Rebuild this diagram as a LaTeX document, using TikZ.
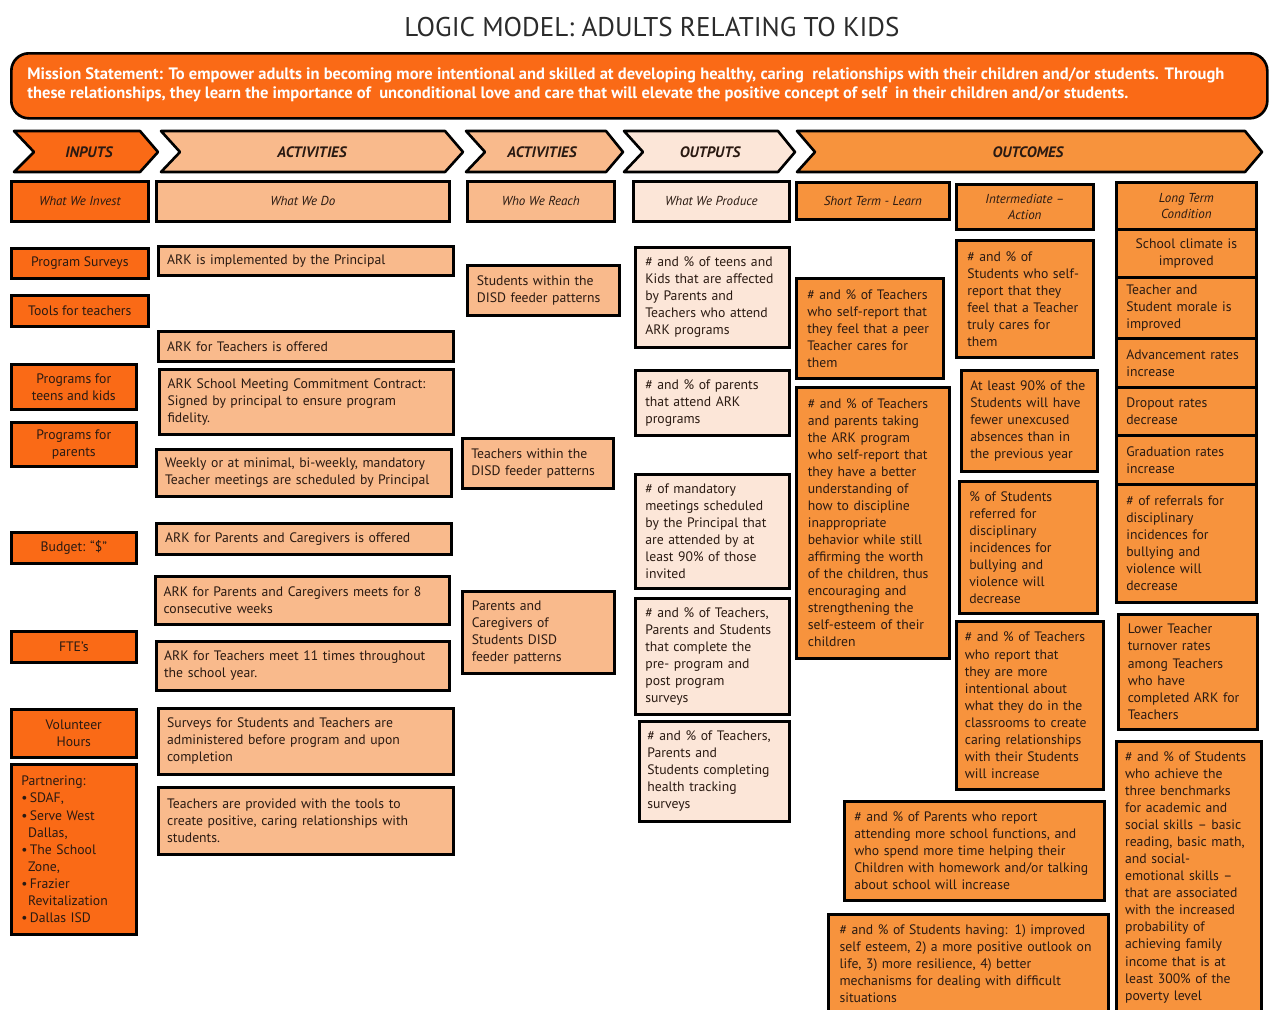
\documentclass[tikz,border=0pt]{standalone}
\usepackage{fontspec}
\setmainfont{PT Sans}
\definecolor{ink}      {HTML}{2A1A12}
\definecolor{titlegray}{HTML}{2B2B2B}
\definecolor{flame}    {HTML}{FA6A16}
\definecolor{peach}    {HTML}{F9BA8C}
\definecolor{blush}    {HTML}{FCE6D8}
\definecolor{tang}     {HTML}{F7933D}

\begin{document}
\begin{tikzpicture}[x=0.02cm, y=-0.02cm,
  every node/.style={font=\fontsize{7.8}{9.7}\selectfont, text=ink},
  % a box given by its corners, in pixel units
  cellat/.style n args={4}{anchor=north west, at={(#1,#2)},
    minimum width={(#3-#1)*0.02cm}, minimum height={(#4-#2)*0.02cm}},
  cell/.style={draw=black, line width=1.5pt, inner sep=0pt, align=left},
  inp/.style={cell, fill=flame, align=center},
  act/.style={cell, fill=peach, text width=5.55cm},
  reach/.style={cell, fill=peach, text width=2.66cm},
  outp/.style={cell, fill=blush, text width=2.68cm},
  outc/.style={cell, fill=tang, text width=#1},
  sub/.style={cell, align=center, font=\fontsize{7.4}{9}\selectfont\itshape},
  chev/.style={draw=black, line width=1.5pt, line join=round},
  hdr/.style={font=\fontsize{8.6}{10}\selectfont\bfseries\itshape}
]
\useasboundingbox (0,0) rectangle (1270,1009);

% title and mission
\node[font=\fontsize{15.4}{18}\selectfont, text=titlegray] (title) at (652,27)
  {LOGIC MODEL: ADULTS RELATING TO KIDS};
\node[cell, fill=flame, rounded corners=10pt, cellat={10}{52}{1266}{117}] (mission) {};
\node[anchor=west, align=left, inner sep=0pt, text=white, font=\fontsize{9.4}{10.8}\selectfont\bfseries]
  (missiontxt) at (27,85)
  {Mission Statement: To empower adults in becoming more intentional and skilled at developing healthy, caring\ \ relationships with their children and/or students. Through\\
   these relationships, they learn the importance of\ \ unconditional love and care that will elevate the positive concept of self\ \ in their children and/or students.};

% chevron headers
\draw[chev, fill=flame] (14,131) -- (140,131) -- (158,152) -- (140,172) -- (14,172) -- (34,152) -- cycle;
\draw[chev, fill=peach] (161,131) -- (445,131) -- (463,152) -- (445,172) -- (161,172) -- (180,152) -- cycle;
\draw[chev, fill=peach] (466,131) -- (606,131) -- (623,152) -- (606,172) -- (466,172) -- (485,152) -- cycle;
\draw[chev, fill=blush] (624,131) -- (778,131) -- (795,152) -- (778,172) -- (624,172) -- (643,152) -- cycle;
\draw[chev, fill=tang]  (797,131) -- (1245,131) -- (1262,152) -- (1245,172) -- (797,172) -- (815,152) -- cycle;
\node[hdr] (hInputs)  at (89,152)   {INPUTS};
\node[hdr] (hAct)     at (312,152)  {ACTIVITIES};
\node[hdr] (hReach)   at (542,152)  {ACTIVITIES};
\node[hdr] (hOutputs) at (710,152)  {OUTPUTS};
\node[hdr] (hOutcome) at (1028,152) {OUTCOMES};

% column sub-headers
\node[sub, fill=flame, cellat={10}{180}{147}{220}]   (subInvest)  {What We Invest};
\node[sub, fill=peach, cellat={155}{180}{448}{220}]  (subDo)      {What We Do};
\node[sub, fill=peach, cellat={466}{180}{613}{220}]  (subReach)   {Who We Reach};
\node[sub, fill=blush, cellat={632}{180}{788}{220}]  (subProduce) {What We Produce};
\node[sub, fill=tang,  cellat={795}{181}{948}{218}]  (subShort)   {Short Term - Learn};
\node[sub, fill=tang,  cellat={955}{183}{1092}{228}] (subInter)   {Intermediate --\\Action};
\node[sub, fill=tang,  cellat={1115}{181}{1255}{228}] (subLong)   {Long Term\\Condition};

% inputs
\node[inp, cellat={10}{247}{147}{277}] (inSurv)    {Program Surveys};
\node[inp, cellat={10}{294}{147}{325}] (inTools)   {Tools for teachers};
\node[inp, cellat={10}{363}{135}{408}] (inTeens)   {Programs for\\teens and kids};
\node[inp, cellat={10}{421}{135}{465}] (inParents) {Programs for\\parents};
\node[inp, cellat={10}{531}{135}{562}] (inBudget)  {Budget: ``\$''};
\node[inp, cellat={10}{630}{135}{661}] (inFte)     {FTE’s};
\node[inp, cellat={10}{708}{135}{756}] (inVol)     {Volunteer\\Hours};
\node[inp, align=left, text width=2.1cm, cellat={10}{763}{135}{933}] (inPartner)
  {Partnering:\\\textbullet\,SDAF,\\\textbullet\,Serve West\\\hspace*{0.5em}Dallas,\\\textbullet\,The School\\\hspace*{0.5em}Zone,\\\textbullet\,Frazier\\\hspace*{0.5em}Revitalization\\\textbullet\,Dallas ISD};

% activities: what we do
\node[act, cellat={157}{245}{452}{274}] (actPrin)     {ARK is implemented by the Principal};
\node[act, cellat={157}{330}{452}{360}] (actTeach)    {ARK for Teachers is offered};
\node[act, cellat={158}{368}{452}{433}] (actContract) {ARK School Meeting Commitment Contract:\\Signed by principal to ensure program\\fidelity.};
\node[act, cellat={155}{448}{450}{495}] (actWeekly)   {Weekly or at minimal, bi-weekly, mandatory\\Teacher meetings are scheduled by Principal};
\node[act, cellat={155}{522}{450}{553}] (actParents)  {ARK for Parents and Caregivers is offered};
\node[act, cellat={154}{575}{448}{623}] (actEight)    {ARK for Parents and Caregivers meets for 8\\consecutive weeks};
\node[act, cellat={155}{640}{448}{689}] (actEleven)   {ARK for Teachers meet 11 times throughout\\the school year.};
\node[act, cellat={157}{707}{452}{773}] (actSurveys)  {Surveys for Students and Teachers are\\administered before program and upon\\completion};
\node[act, cellat={157}{786}{452}{853}] (actTools)    {Teachers are provided with the tools to\\create positive, caring relationships with\\students.};

% activities: who we reach
\node[reach, cellat={466}{264}{618}{314}] (reachStu) {Students within the\\DISD feeder patterns};
\node[reach, cellat={461}{437}{612}{487}] (reachTea) {Teachers within the\\DISD feeder patterns};
\node[reach, cellat={461}{590}{613}{672}] (reachPar) {Parents and\\Caregivers of\\Students DISD\\feeder patterns};

% outputs
\node[outp, cellat={634}{246}{788}{346}] (outTeens)   {\# and \% of teens and\\Kids that are affected\\by Parents and\\Teachers who attend\\ARK programs};
\node[outp, cellat={634}{369}{788}{434}] (outParents) {\# and \% of parents\\that attend ARK\\programs};
\node[outp, cellat={634}{473}{788}{587}] (outMeet)    {\# of mandatory\\meetings scheduled\\by the Principal that\\are attended by at\\least 90\% of those\\invited};
\node[outp, cellat={634}{597}{788}{713}] (outSurv)    {\# and \% of Teachers,\\Parents and Students\\that complete the\\pre- program and\\post program\\surveys};
\node[outp, cellat={638}{720}{788}{820}] (outHealth)  {\# and \% of Teachers,\\Parents and\\Students completing\\health tracking\\surveys};

% outcomes: short term
\node[outc=2.5cm, cellat={795}{277}{942}{377}] (stPeer) {\# and \% of Teachers\\who self-report that\\they feel that a peer\\Teacher cares for\\them};
\node[outc=2.6cm, cellat={795}{386}{948}{657}] (stDisc) {\# and \% of Teachers\\and parents taking\\the ARK program\\who self-report that\\they have a better\\understanding of\\how to discipline\\inappropriate\\behavior while still\\affirming the worth\\of the children, thus\\encouraging and\\strengthening the\\self-esteem of their\\children};

% outcomes: intermediate
\node[outc=2.3cm,  cellat={955}{239}{1092}{356}] (imCares)  {\# and \% of\\Students who self-\\report that they\\feel that a Teacher\\truly cares for\\them};
\node[outc=2.36cm, cellat={960}{369}{1096}{470}] (imAbsent) {At least 90\% of the\\Students will have\\fewer unexcused\\absences than in\\the previous year};
\node[outc=2.36cm, cellat={958}{480}{1096}{612}] (imRefer)  {\% of Students\\referred for\\disciplinary\\incidences for\\bullying and\\violence will\\decrease};
\node[outc=2.6cm,  cellat={955}{620}{1102}{788}] (imIntent) {\# and \% of Teachers\\who report that\\they are more\\intentional about\\what they do in the\\classrooms to create\\caring relationships\\with their Students\\will increase};
\node[outc=4.8cm,  cellat={843}{800}{1103}{899}] (wideParents)  {\# and \% of Parents who report\\attending more school functions, and\\who spend more time helping their\\Children with homework and/or talking\\about school will increase};
\node[outc=5.15cm, cellat={827}{913}{1107}{1012}] (wideStudents) {\# and \% of Students having: 1) improved\\self esteem, 2) a more positive outlook on\\life, 3) more resilience, 4) better\\mechanisms for dealing with difficult\\situations};

% outcomes: long term
\node[outc=2.4cm, align=center, cellat={1115}{228}{1255}{276}] (ltClimate) {School climate is\\improved};
\node[outc=2.4cm, cellat={1115}{276}{1255}{337}] (ltMorale)   {Teacher and\\Student morale is\\improved};
\node[outc=2.4cm, cellat={1115}{337}{1255}{386}] (ltAdvance)  {Advancement rates\\increase};
\node[outc=2.4cm, cellat={1115}{386}{1255}{434}] (ltDropout)  {Dropout rates\\decrease};
\node[outc=2.4cm, cellat={1115}{434}{1255}{483}] (ltGrad)     {Graduation rates\\increase};
\node[outc=2.4cm, cellat={1115}{483}{1255}{601}] (ltRefer)    {\# of referrals for\\disciplinary\\incidences for\\bullying and\\violence will\\decrease};
\node[outc=2.4cm, cellat={1117}{613}{1256}{728}] (ltTurnover) {Lower Teacher\\turnover rates\\among Teachers\\who have\\completed ARK for\\Teachers};
\node[outc=2.55cm, cellat={1115}{740}{1260}{1012}] (ltBench)  {\# and \% of Students\\who achieve the\\three benchmarks\\for academic and\\social skills -- basic\\reading, basic math,\\and social-\\emotional skills --\\that are associated\\with the increased\\probability of\\achieving family\\income that is at\\least 300\% of the\\poverty level};
\end{tikzpicture}
\end{document}
